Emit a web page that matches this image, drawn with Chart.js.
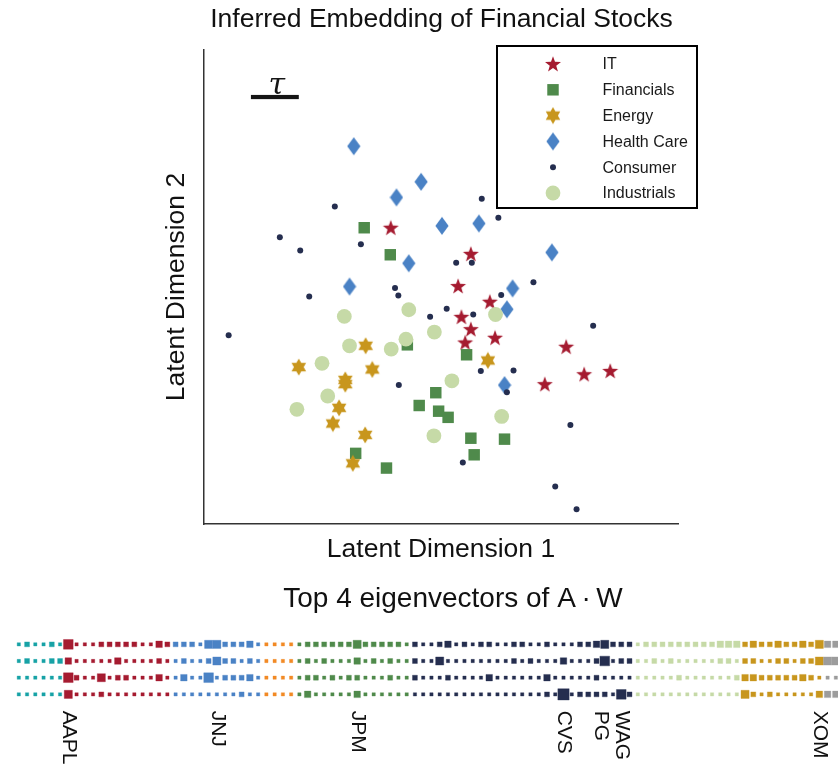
<!DOCTYPE html>
<html><head><meta charset="utf-8">
<script src="https://cdn.jsdelivr.net/npm/chart.js@4.4.1/dist/chart.umd.min.js"></script>
<style>
html,body{margin:0;padding:0;background:#fff;overflow:hidden;width:838px;height:767px;}
#c1{position:absolute;left:0;top:0;}
#c2{position:absolute;left:0;top:570px;}
</style></head><body>
<canvas id="c1" width="838" height="570"></canvas>
<canvas id="c2" width="906" height="197"></canvas>
<script>
// ---------- DATA: inferred 2-D embedding (latent units, 0-100) ----------
const sectors = ['IT', 'Financials', 'Energy', 'Health Care', 'Consumer', 'Industrials'];
const itX  = [39.4,56.3,53.6,60.3,54.3,56.3,55.1,61.4,76.4,80.2,85.7,71.9];
const itY  = [62.5,57.0,50.2,46.9,43.7,41.1,38.3,39.3,37.4,31.6,32.3,29.5];
const finX = [33.8,39.3,42.9,55.4,48.9,45.4,49.5,51.5,56.3,63.4,57.0,32.0,38.5];
const finY = [62.5,56.8,37.8,35.7,27.7,25.0,23.8,22.5,18.1,17.9,14.6,14.9,11.8];
const enX  = [34.1,20.0,35.5,29.8,29.8,59.9,28.5,27.2,34.0,31.4];
const enY  = [37.6,33.1,32.6,30.4,29.5,34.5,24.5,21.2,18.8,12.8];
const hcX  = [31.6,45.8,40.6,50.2,58.0,73.4,43.2,30.7,65.1,63.9,63.4];
const hcY  = [79.7,72.2,68.9,62.9,63.4,57.3,55.0,50.1,49.7,45.3,29.3];
const conX = [58.6,27.6,62.1,16.0,20.3,33.1,53.2,56.5,40.3,41.0,22.2,69.5,62.7,51.2,47.7,56.8,5.2,82.1,58.4,65.3,41.1,63.9,77.3,54.6,74.1,78.6];
const conY = [68.6,67.0,64.6,60.5,57.7,59.0,55.1,55.1,49.8,48.2,48.0,51.0,48.3,45.4,43.7,44.2,39.8,41.8,32.3,32.4,29.3,27.8,20.9,13.0,7.9,3.1];
const indX = [43.2,29.6,61.5,48.6,42.6,30.7,39.5,24.9,52.3,26.1,19.6,62.8,48.5];
const indY = [45.2,43.8,44.2,40.5,39.0,37.6,36.9,33.9,30.2,27.0,24.2,22.7,18.6];
// scale bar "tau" (latent units)
const tauBar = {x0: 9.9, x1: 20.0, y: 90.1};

// ---------- DATA: top 4 eigenvectors of A·W (entry magnitude level per stock) ----------
const stripGroups = ['Other A','IT','Health Care','Other B','Financials','Consumer','Industrials','Energy','Other C'];
const stripGroupSizes = [6,13,11,4,14,27,13,10,2];
const ev1 = [1,2,1,1,2,1, 5,1,1,1,2,2,2,2,2,1,1,3,2, 2,2,2,1,4,4,2,2,2,3,1, 1,1,1,1,
  1,2,2,2,2,2,2,4,2,2,2,2,2,1, 2,1,1,2,3,1,2,1,2,2,1,1,2,2,1,1,2,1,1,1,2,2,3,4,2,2,2,
  1,2,2,2,2,2,2,2,2,2,3,3,3, 2,3,2,2,3,2,2,3,2,4, 3,3];
const ev2 = [1,2,1,1,2,2, 3,1,1,1,1,1,3,1,1,1,1,2,1, 1,2,1,1,2,4,2,2,1,2,1, 1,1,1,1,
  1,2,1,2,1,1,1,3,1,2,1,2,1,1, 2,1,1,4,1,1,1,1,1,1,1,1,2,1,2,1,1,1,3,1,1,1,2,5,1,2,2,
  1,1,2,1,2,1,1,1,1,1,2,2,1, 2,2,1,1,2,2,1,2,2,4, 4,4];
const ev3 = [1,1,1,1,1,1, 5,2,1,1,4,1,2,2,1,1,1,3,1, 1,3,1,1,5,1,2,2,2,3,1, 1,1,1,1,
  1,2,2,1,2,1,2,2,1,1,1,2,1,1, 2,1,1,1,2,1,1,1,1,3,1,1,1,1,1,1,3,1,1,1,1,1,2,1,1,1,1,
  1,1,1,1,1,2,1,1,1,1,1,1,2, 3,3,2,2,2,2,2,3,2,1, 1,1];
const ev4 = [1,1,1,1,1,1, 4,1,1,1,2,1,1,1,1,1,1,1,1, 1,1,1,1,1,1,1,1,2,1,1, 1,1,1,1,
  1,3,1,1,1,1,1,3,1,1,1,1,1,1, 1,1,1,1,1,1,1,1,1,1,1,1,1,1,1,1,2,1,6,1,2,2,2,2,1,5,2,
  1,1,1,1,1,1,1,1,1,1,1,1,1, 4,2,1,2,1,1,1,1,1,3, 3,3];
const tickLabels = ['AAPL','JNJ','JPM','CVS','PG','WAG','XOM'];
const tickStock  = [6, 24, 41, 66, 70.5, 73, 97];

// ---------- STYLE ----------
const FONT = '"Liberation Sans", Arial, Helvetica, sans-serif';
Chart.defaults.font.family = FONT;
const COL = {
  'IT':'#a51b30', 'Financials':'#4f8a4b', 'Energy':'#c8961d', 'Health Care':'#4a82c5',
  'Consumer':'#252e4f', 'Industrials':'#c6daa7', 'Other A':'#17a2a6', 'Other B':'#f28a25', 'Other C':'#9c9c9c'
};
function mkCanvas(w, h, draw){ const c=document.createElement('canvas'); c.width=w; c.height=h; draw(c.getContext('2d'), w/2, h/2); return c; }
function starPath(g, cx, cy, n, R, r){
  g.beginPath();
  for (let k=0;k<2*n;k++){ const rad=k%2?r:R; const a=-Math.PI/2+k*Math.PI/n;
    const x=cx+rad*Math.cos(a), y=cy+rad*Math.sin(a); if(k) g.lineTo(x,y); else g.moveTo(x,y); }
  g.closePath();
}
const starImg = mkCanvas(18,18,(g,cx,cy)=>{ starPath(g,cx,cy+0.6,5,8.4,3.4); g.fillStyle=COL['IT']; g.fill(); });
const hexImg  = mkCanvas(18,18,(g,cx,cy)=>{ starPath(g,cx,cy,6,8.4,4.9); g.fillStyle=COL['Energy']; g.fill(); });
const diaImg  = mkCanvas(14,20,(g,cx,cy)=>{ g.beginPath(); g.moveTo(cx,cy-9); g.lineTo(cx+6.6,cy); g.lineTo(cx,cy+9); g.lineTo(cx-6.6,cy); g.closePath(); g.fillStyle=COL['Health Care']; g.fill(); });
const markerStyle = {
  'IT':{pointStyle:starImg, radius:8}, 'Financials':{pointStyle:'rect', radius:8.1},
  'Energy':{pointStyle:hexImg, radius:8}, 'Health Care':{pointStyle:diaImg, radius:8},
  'Consumer':{pointStyle:'circle', radius:3}, 'Industrials':{pointStyle:'circle', radius:7.4}
};
const seriesXY = {'IT':[itX,itY],'Financials':[finX,finY],'Energy':[enX,enY],'Health Care':[hcX,hcY],'Consumer':[conX,conY],'Industrials':[indX,indY]};

// ---------- TOP CHART ----------
const topDatasets = sectors.map((s, k) => ({
  label: s,
  data: seriesXY[s][0].map((x, i) => ({x, y: seriesXY[s][1][i]})),
  pointStyle: markerStyle[s].pointStyle,
  pointRadius: markerStyle[s].radius,
  backgroundColor: COL[s], borderColor: COL[s], borderWidth: 0,
  order: sectors.length - k
}));

function drawLegendMarker(ctx, s, x, y){
  const m = markerStyle[s];
  ctx.fillStyle = COL[s];
  if (m.pointStyle instanceof HTMLCanvasElement){
    ctx.drawImage(m.pointStyle, x - m.pointStyle.width/2, y - m.pointStyle.height/2);
  } else if (m.pointStyle === 'rect'){
    const h = m.radius*Math.SQRT1_2; ctx.fillRect(x-h, y-h, 2*h, 2*h);
  } else { ctx.beginPath(); ctx.arc(x, y, m.radius, 0, Math.PI*2); ctx.fill(); }
}
const boxLegend = {
  id:'boxLegend',
  afterDraw(chart){
    const ctx = chart.ctx, ca = chart.chartArea;
    const bx = ca.right - 181, by = ca.top - 4, bw = 200, bh = 162;
    ctx.save();
    ctx.fillStyle = '#fff'; ctx.fillRect(bx, by, bw, bh);
    ctx.lineWidth = 2; ctx.strokeStyle = '#000'; ctx.strokeRect(bx, by, bw, bh);
    ctx.font = '16px ' + FONT; ctx.textBaseline = 'middle'; ctx.textAlign = 'left';
    sectors.forEach((s, k) => {
      const y = by + 18 + k*25.8;
      drawLegendMarker(ctx, s, bx + 56, y);
      ctx.fillStyle = '#1a1a1a'; ctx.fillText(s, bx + 105.5, y + 1);
    });
    // tau scale bar
    const xs = chart.scales.x, ys = chart.scales.y;
    const x0 = xs.getPixelForValue(tauBar.x0), x1 = xs.getPixelForValue(tauBar.x1), yb = ys.getPixelForValue(tauBar.y);
    ctx.fillStyle = '#151515'; ctx.fillRect(x0, yb - 2, x1 - x0, 4.2);
    ctx.font = 'italic 30px "DejaVu Serif", "Liberation Serif", serif';
    ctx.textAlign = 'center'; ctx.textBaseline = 'alphabetic';
    ctx.fillText('τ', (x0 + x1)/2 + 2, yb - 3);
    ctx.restore();
  }
};

const axisCommon = {
  type:'linear', grid:{display:false, drawTicks:false}, ticks:{display:false},
  border:{display:true, color:'#333', width:1.5}
};
new Chart(document.getElementById('c1'), {
  type:'scatter',
  data:{datasets: topDatasets},
  options:{
    responsive:false, animation:false, devicePixelRatio:1, events:[],
    layout:{autoPadding:false, padding:{left:45, right:0, top:0, bottom:0}},
    plugins:{
      legend:{display:false}, tooltip:{enabled:false},
      title:{display:true, text:'Inferred Embedding of Financial Stocks', color:'#111',
             font:{size:26.5, weight:'normal'}, padding:{top:4.1, bottom:14.1}}
    },
    scales:{
      x:Object.assign({}, axisCommon, {position:'bottom', min:0, max:100,
        title:{display:true, text:'Latent Dimension 1', color:'#111', font:{size:26.5}, padding:{top:10.1, bottom:4.1}}}),
      y:Object.assign({}, axisCommon, {position:'left', min:0, max:100,
        title:{display:true, text:'Latent Dimension 2', color:'#111', font:{size:26.5}, padding:{top:116.1, bottom:11.1}}}),
      yR:{type:'linear', position:'right', min:0, max:1, grid:{display:false, drawTicks:false}, ticks:{display:false},
        border:{display:false}, title:{display:true, text:'', font:{size:26.5}, padding:{top:128.2, bottom:0}}}
    }
  },
  plugins:[boxLegend]
});

// ---------- BOTTOM CHART ----------
const stockColor = [];
stripGroups.forEach((g, k) => { for (let j=0;j<stripGroupSizes[k];j++) stockColor.push(COL[g]); });
function haloColor(hex){ const n=parseInt(hex.slice(1),16); return `rgba(${n>>16},${(n>>8)&255},${n&255},0.35)`; }
const stripRows = [ev1, ev2, ev3, ev4];
const stripDatasets = stripRows.map((row, r) => ({
  label: 'Eigenvector ' + (r+1),
  data: row.map((v, i) => ({x: i, y: r + 1})),
  pointStyle: 'rect',
  pointRadius: row.map(v => (1.6*v + 1.7) / Math.SQRT2),
  backgroundColor: stockColor,
  borderColor: stockColor.map(haloColor),
  borderWidth: 1
}));
const stripLabels = {
  id:'stripLabels',
  afterDraw(chart){
    const ctx = chart.ctx, xs = chart.scales.x;
    ctx.save();
    ctx.font = '21px ' + FONT; ctx.fillStyle = '#111';
    ctx.textAlign = 'left'; ctx.textBaseline = 'middle';
    tickLabels.forEach((t, k) => {
      ctx.save();
      ctx.translate(xs.getPixelForValue(tickStock[k]) + 0.5, chart.chartArea.bottom + 3);
      ctx.rotate(Math.PI/2);
      ctx.fillText(t, 0, 0);
      ctx.restore();
    });
    ctx.restore();
  }
};
new Chart(document.getElementById('c2'), {
  type:'scatter',
  data:{datasets: stripDatasets},
  options:{
    responsive:false, animation:false, devicePixelRatio:1, events:[],
    layout:{autoPadding:false, padding:{left:0, right:0, top:0, bottom:59.3}},
    plugins:{
      legend:{display:false}, tooltip:{enabled:false},
      title:{display:true, text:'Top 4 eigenvectors of A\u2009·\u2009W', color:'#111',
             font:{size:28, weight:'normal'}, padding:{top:12.2, bottom:15.2}}
    },
    scales:{
      x:{type:'linear', display:false, min:-2.278, max:107.5},
      y:{type:'linear', display:false, min:0.2, max:4.8, reverse:true}
    }
  },
  plugins:[stripLabels]
});
</script></body></html>
